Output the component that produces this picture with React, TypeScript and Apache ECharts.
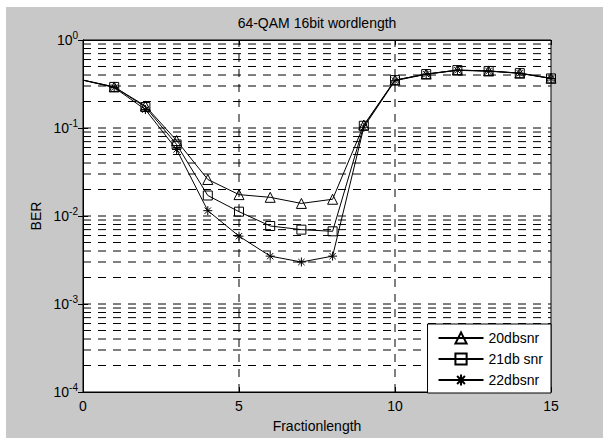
import React, { useEffect, useRef } from "react";
import * as echarts from "echarts";

const FONT = "'Liberation Sans', Arial, Helvetica, sans-serif";

const titleText = "64-QAM 16bit wordlength";
const xName = "Fractionlength";
const yName = "BER";

const xValues = [0, 1, 2, 3, 4, 5, 6, 7, 8, 9, 10, 11, 12, 13, 14, 15];
const ber20 = [0.35, 0.293, 0.178, 0.072, 0.026, 0.0175, 0.0163, 0.0139, 0.0155, 0.108, 0.35, 0.41, 0.455, 0.445, 0.42, 0.368];
const ber21 = [0.35, 0.293, 0.173, 0.065, 0.0171, 0.0112, 0.0077, 0.007, 0.0067, 0.106, 0.35, 0.41, 0.455, 0.445, 0.42, 0.366];
const ber22 = [0.35, 0.288, 0.162, 0.057, 0.0115, 0.0059, 0.0035, 0.003, 0.0035, 0.102, 0.345, 0.408, 0.452, 0.442, 0.418, 0.365];
const seriesNames = ["20dbsnr", "21db snr", "22dbsnr"];

const xMin = 0;
const xMax = 15;
const yMin = 1e-4;
const yMax = 1;
const xGridValues = [5, 10];
const decades = [1e-4, 1e-3, 1e-2, 1e-1];
const minorMultipliers = [1, 2, 3, 4, 5, 6, 7, 8, 9];

const STAR = "path://M5,0L5,10M0,5L10,5M1.5,1.5L8.5,8.5M1.5,8.5L8.5,1.5";

export default function App() {
  const ref = useRef<HTMLDivElement>(null);
  useEffect(() => {
    document.body.style.margin = "0";
    if (!ref.current) return;
    const chart = echarts.init(ref.current, undefined, { renderer: "svg" });

    const gridSegments: number[][] = [];
    decades.forEach((d) => {
      minorMultipliers.forEach((m) => {
        const v = d * m;
        if (v > yMin * 1.0001 && v < yMax * 0.9999) gridSegments.push([xMin, v, xMax, v]);
      });
    });
    xGridValues.forEach((x) => gridSegments.push([x, yMin, x, yMax]));

    const mk = (name: string, vals: number[], symbol: string, size: number) => ({
      name,
      type: "line",
      data: xValues.map((x, i) =>
        i === 0 ? { value: [x, vals[i]], symbol: "none" } : { value: [x, vals[i]] }
      ),
      symbol,
      symbolSize: size,
      showAllSymbol: true,
      lineStyle: { color: "#000", width: 1 },
      itemStyle: { color: "transparent", borderColor: "#000", borderWidth: 1 },
      emphasis: { disabled: true },
      silent: true,
      z: 3,
    });

    const option: any = {
      animation: false,
      backgroundColor: "#fff",
      graphic: {
        elements: [
          { type: "rect", z: -100, shape: { x: 6, y: 7, width: 597, height: 431 }, style: { fill: "#c8c8c8" }, silent: true },
          {
            type: "text",
            x: 317,
            y: 23,
            style: { text: titleText, textAlign: "center", textVerticalAlign: "middle", fontSize: 14, fontFamily: FONT, fill: "#000" },
          },
        ],
      },
      grid: {
        left: 83,
        right: 52,
        top: 40,
        bottom: 45,
        show: true,
        backgroundColor: "#fff",
        borderColor: "#000",
        borderWidth: 1,
        containLabel: false,
      },
      legend: {
        data: seriesNames,
        orient: "vertical",
        right: 52,
        bottom: 45,
        backgroundColor: "#fff",
        borderColor: "#000",
        borderWidth: 1,
        padding: [7, 8, 6, 10],
        itemWidth: 45,
        itemHeight: 14,
        itemGap: 7,
        textStyle: { fontSize: 14, fontFamily: FONT, color: "#000" },
        selectedMode: false,
      },
      xAxis: [
        {
          type: "value",
          min: xMin,
          max: xMax,
          interval: 5,
          name: xName,
          nameLocation: "middle",
          nameGap: 27,
          nameTextStyle: { fontSize: 14, fontFamily: FONT, color: "#000" },
          axisLine: { show: true, lineStyle: { color: "#000" } },
          axisTick: { show: true, inside: true, length: 5, lineStyle: { color: "#000" } },
          axisLabel: { fontSize: 14, fontFamily: FONT, color: "#000", margin: 7 },
          splitLine: { show: false },
        },
        {
          type: "value",
          position: "top",
          min: xMin,
          max: xMax,
          interval: 5,
          axisLine: { show: true, lineStyle: { color: "#000" } },
          axisTick: { show: true, inside: true, length: 5, lineStyle: { color: "#000" } },
          axisLabel: { show: false },
          splitLine: { show: false },
        },
      ],
      yAxis: [
        {
          type: "log",
          logBase: 10,
          min: yMin,
          max: yMax,
          name: yName,
          nameLocation: "middle",
          nameRotate: 90,
          nameGap: 38,
          nameTextStyle: { fontSize: 14, fontFamily: FONT, color: "#000" },
          axisLine: { show: true, lineStyle: { color: "#000" } },
          axisTick: { show: true, inside: true, length: 5, lineStyle: { color: "#000" } },
          axisLabel: {
            margin: 5,
            formatter: (v: number) => `{b|10}{s|${Math.round(Math.log10(v))}}`,
            rich: {
              b: { fontSize: 14, fontFamily: FONT, color: "#000" },
              s: { fontSize: 10, fontFamily: FONT, color: "#000", padding: [0, 0, 9, 0] },
            },
          },
          splitLine: { show: false },
          minorTick: { show: false },
        },
        {
          type: "log",
          logBase: 10,
          min: yMin,
          max: yMax,
          position: "right",
          axisLine: { show: true, lineStyle: { color: "#000" } },
          axisTick: { show: true, inside: true, length: 5, lineStyle: { color: "#000" } },
          axisLabel: { show: false },
          splitLine: { show: false },
        },
      ],
      series: [
        {
          name: "grid",
          type: "custom",
          data: gridSegments,
          encode: { x: [0, 2], y: [1, 3] },
          silent: true,
          clip: false,
          z: 1,
          renderItem: (params: any, api: any) => {
            const p0 = api.coord([api.value(0), api.value(1)]);
            const p1 = api.coord([api.value(2), api.value(3)]);
            return {
              type: "line",
              shape: { x1: p0[0], y1: p0[1], x2: p1[0], y2: p1[1] },
              style: { stroke: "#000", lineWidth: 1, lineDash: [8, 7] },
              silent: true,
            };
          },
        },
        mk(seriesNames[0], ber20, "triangle", 10),
        mk(seriesNames[1], ber21, "rect", 9),
        mk(seriesNames[2], ber22, STAR, 9),
      ],
    };
    chart.setOption(option);
    return () => chart.dispose();
  }, []);
  return <div ref={ref} style={{ width: 603, height: 438 }} />;
}
